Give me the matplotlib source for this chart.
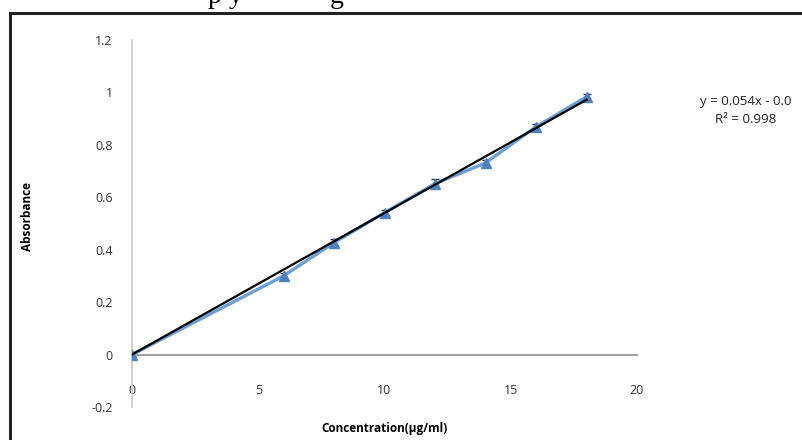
import numpy as np
import matplotlib.pyplot as plt
from matplotlib.lines import Line2D

# calibration data
conc = [0, 6, 8, 10, 12, 14, 16, 18]
absorb = [0.0, 0.30, 0.427, 0.541, 0.652, 0.731, 0.869, 0.983]
err = [0.008, 0.012, 0.014, 0.010, 0.018, 0.012, 0.010, 0.010]
x_ticks = [0, 5, 10, 15, 20]
y_ticks = [-0.2, 0, 0.2, 0.4, 0.6, 0.8, 1, 1.2]
y_ticklabels = ['-0.2', '0', '0.2', '0.4', '0.6', '0.8', '1', '1.2']
# trendline as printed on the chart
slope, icpt = 0.054, 0.0
r2 = 0.998

plt.rcParams['font.family'] = ['Open Sans', 'DejaVu Sans']

fig = plt.figure(figsize=(8.02, 4.4), dpi=100)
ax = fig.add_axes([132/802, 1 - 407/440, 505/802, 367/440])

# trendline
xt = np.array([conc[0], conc[-1]])
ax.plot(xt, slope*xt + icpt, color='black', lw=1.6, zorder=4)

# series with error bars
ax.errorbar(conc, absorb, yerr=err, color='#6a9fd8', lw=2.4, marker='^',
            markersize=7, mfc='#4f81bd', mec='#4f81bd', ecolor='#333333',
            elinewidth=1, capsize=3, zorder=3)

ax.set_xlim(0, 20)
ax.set_ylim(-0.2, 1.2)
for s in ['top', 'right']:
    ax.spines[s].set_visible(False)
ax.spines['bottom'].set_position(('data', 0))
ax.spines['bottom'].set_color('#a0a0a0')
ax.spines['bottom'].set_linewidth(1.5)
ax.spines['left'].set_color('#c8c8c8')
ax.spines['left'].set_linewidth(1.2)

ax.set_xticks(x_ticks)
ax.set_yticks(y_ticks)
ax.set_yticklabels(y_ticklabels)
ax.tick_params(axis='x', length=0, pad=21, labelsize=9, labelcolor='#333333')
ax.tick_params(axis='y', length=0, pad=14, labelsize=9, labelcolor='#333333')

ax.set_xlabel('Concentration(µg/ml)', fontsize=8.5, fontweight='bold')
ax.xaxis.set_label_coords(0.50, -0.04)
ax.set_ylabel('Absorbance', fontsize=8.5, fontweight='bold')
ax.yaxis.set_label_coords(-0.195, 0.52)

# trendline equation
fig.text(700/802, 1 - 102/440, f'y = {slope:.3f}x - {icpt:.1f}', fontsize=9.5,
         ha='left', va='center', color='#222222')
fig.text(746/802, 1 - 119/440, f'R² = {r2:.3f}', fontsize=9.5,
         ha='center', va='center', color='#222222')

# frame of the scanned figure
fig.add_artist(Line2D([10/802, 10/802], [0, 1 - 13/440], color='#222222', lw=2.2))
fig.add_artist(Line2D([10/802, 1], [1 - 13/440, 1 - 13/440], color='#222222', lw=2.2))

# clipped caption from the page above
fig.text(208/802, 1 - 3/440, 'p y', fontsize=20, family='Liberation Serif',
         ha='left', va='baseline')
fig.text(330/802, 1 - 3/440, 'g', fontsize=20, family='Liberation Serif',
         ha='left', va='baseline')

fig.savefig('out.png', dpi=100)
